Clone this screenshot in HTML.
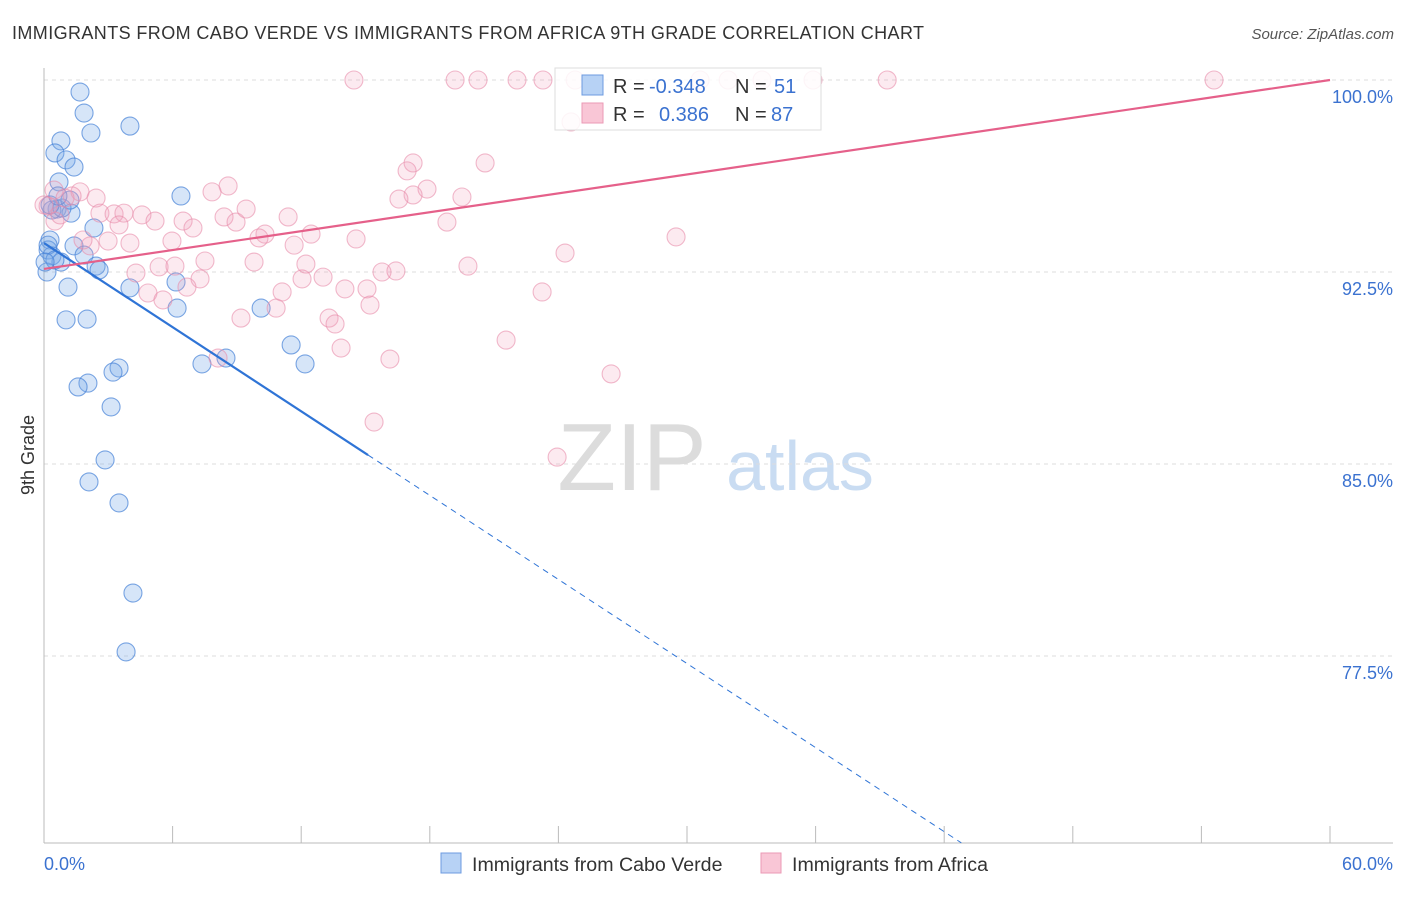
<!DOCTYPE html>
<html><head><meta charset="utf-8"><style>
body{margin:0;background:#fff;font-family:"Liberation Sans",sans-serif;}
svg text{font-family:"Liberation Sans",sans-serif;}
</style></head><body>
<svg id="chart" width="1406" height="892" viewBox="0 0 1406 892">
<text x="12" y="39" font-size="18" fill="#333" letter-spacing="0.4">IMMIGRANTS FROM CABO VERDE VS IMMIGRANTS FROM AFRICA 9TH GRADE CORRELATION CHART</text>
<text x="1394" y="39" font-size="15" fill="#555" font-style="italic" text-anchor="end">Source: ZipAtlas.com</text>
<g>
<text x="632" y="490" font-size="96" fill="#dcdcdc" font-family="Liberation Serif" text-anchor="middle">ZIP</text>
<text x="800" y="490" font-size="70" fill="#c9dcf2" text-anchor="middle">atlas</text>
</g>
<g id="grid"></g>
<g id="axes"></g>
<g id="pts"></g>
<g id="trends"></g>
<text transform="translate(34,455) rotate(-90)" font-size="18" fill="#333" text-anchor="middle">9th Grade</text>
<text x="44" y="870" font-size="18" fill="#3b72d0">0.0%</text>
<text x="1393" y="870" font-size="18" fill="#3b72d0" text-anchor="end">60.0%</text>
<g>
<rect x="555" y="68" width="266" height="62" fill="#fff" fill-opacity="0.85" stroke="#ddd"/>
<rect x="582" y="75" width="21" height="20" fill="#b7d2f5" stroke="#6c9be0"/>
<rect x="582" y="103" width="21" height="20" fill="#f9c6d6" stroke="#eb9ab5"/>
<text x="613" y="93" font-size="20" fill="#333">R =</text><text x="649" y="93" font-size="20" fill="#3b72d0">-0.348</text>
<text x="735" y="93" font-size="20" fill="#333">N =</text><text x="774" y="93" font-size="20" fill="#3b72d0">51</text>
<text x="613" y="121" font-size="20" fill="#333">R =</text><text x="659" y="121" font-size="20" fill="#3b72d0">0.386</text>
<text x="735" y="121" font-size="20" fill="#333">N =</text><text x="771" y="121" font-size="20" fill="#3b72d0">87</text>
</g>
<g>
<rect x="441" y="853" width="20" height="20" fill="#b7d2f5" stroke="#6c9be0"/>
<text x="472" y="871" font-size="19.6" fill="#333">Immigrants from Cabo Verde</text></g>
<g>
<rect x="761" y="853" width="20" height="20" fill="#f9c6d6" stroke="#eb9ab5"/>
<text x="792" y="871" font-size="19.6" fill="#333">Immigrants from Africa</text></g>
</svg>
<script>
const yTicks=[100,92.5,85,77.5];
const yTickLabels=["100.0%","92.5%","85.0%","77.5%"];
const xTicks=[0,6,12,18,24,30,36,42,48,54,60];
const blueX=[1.68,1.87,2.19,4.01,0.79,0.51,1.03,1.40,0.70,6.39,0.61,1.26,2.33,0.28,0.19,1.40,0.37,0.79,1.87,2.43,2.57,0.14,1.12,4.01,6.16,6.21,10.13,1.03,2.01,11.53,12.18,7.37,8.49,3.50,3.22,2.05,1.59,3.13,2.85,2.10,3.50,4.15,3.83,0.37,0.84,0.19,0.51,1.21,0.05,0.28,0.65];
const blueY=[99.53,98.71,97.93,98.20,97.62,97.15,96.88,96.60,96.02,95.47,94.96,94.80,94.22,93.75,93.36,93.52,93.13,92.89,93.16,92.73,92.58,92.50,91.91,91.88,92.11,91.09,91.09,90.63,90.66,89.65,88.91,88.91,89.14,88.75,88.59,88.16,88.01,87.23,85.16,84.30,83.48,79.96,77.66,94.92,95.00,93.55,92.97,95.31,92.89,95.12,95.47];
const pinkX=[14.46,19.18,20.25,22.07,23.28,24.78,30.61,31.92,33.50,35.88,39.34,54.59,24.59,17.22,20.58,16.94,8.59,7.84,17.87,17.22,16.56,19.50,1.68,2.43,0.47,0.98,1.31,0.19,2.61,3.27,3.73,4.57,5.18,6.49,8.40,8.96,9.43,11.39,6.95,3.50,10.31,12.46,10.03,11.67,14.56,18.80,29.49,5.97,4.01,2.99,2.15,1.82,0.51,7.51,9.80,12.22,5.37,4.29,6.11,7.28,6.67,4.85,5.55,11.11,12.04,13.02,15.07,14.04,15.77,16.42,19.78,24.31,23.24,15.21,10.83,9.19,13.30,13.58,13.86,8.12,16.14,21.56,26.46,15.40,23.94,0,0.75];
const pinkY=[100,100,100,100,100,100,100,100,100,100,100,100,98.36,96.76,96.76,96.45,95.86,95.63,95.74,95.51,95.35,95.43,95.63,95.39,95.70,95.39,95.47,95.08,94.80,94.77,94.80,94.73,94.49,94.49,94.65,94.45,94.96,94.65,94.22,94.34,93.98,93.98,93.83,93.55,93.79,94.45,93.87,93.71,93.63,93.71,93.52,93.75,94.49,92.93,92.89,92.81,92.70,92.46,92.73,92.23,91.91,91.68,91.41,91.72,92.23,92.30,91.84,91.84,92.50,92.54,92.73,93.24,91.72,91.21,91.09,90.70,90.70,90.47,89.53,89.14,89.10,89.84,88.52,86.64,85.27,95.12,94.73];
const blueTrend=[[0,93.63],[15.12,85.35],[42.8,70.2]];
const pinkTrend=[[0,92.62],[60,100]];
const X=v=>44+v/60*1286, Y=v=>80+(100-v)/7.5*192;
const NS="http://www.w3.org/2000/svg";
function mk(tag,attrs,parent){const e=document.createElementNS(NS,tag);for(const k in attrs)e.setAttribute(k,attrs[k]);document.getElementById(parent).appendChild(e);return e;}
yTicks.forEach((t,i)=>{
 const l=mk('line',{x1:44,x2:1393,y1:Y(t),y2:Y(t),stroke:'#ddd','stroke-dasharray':'4,4'},'grid');
 
 
 const tx=mk('text',{x:1393,y:Y(t)+23,'font-size':18,fill:'#3b72d0','text-anchor':'end'},'grid');
 tx.textContent=yTickLabels[i];
 
 
});
const ya=mk('line',{x1:44,x2:44,y1:68,y2:843,stroke:'#bbb'},'axes');


const xa=mk('line',{x1:44,x2:1393,y1:843,y2:843,stroke:'#bbb'},'axes');


xTicks.forEach(t=>{
 const l=mk('line',{x1:X(t),x2:X(t),y1:826,y2:843,stroke:'#bbb'},'axes');
 
 
});
blueX.forEach((v,i)=>{
 const c=mk('circle',{cx:X(v),cy:Y(blueY[i]),r:9,fill:'rgba(120,168,232,0.3)',stroke:'rgba(70,130,215,0.7)','stroke-width':1.1},'pts');
 
 
});
pinkX.forEach((v,i)=>{
 const c=mk('circle',{cx:X(v),cy:Y(pinkY[i]),r:9,fill:'rgba(242,160,186,0.22)',stroke:'rgba(232,140,170,0.6)','stroke-width':1.1},'pts');
 
 
});
const b1=mk('line',{x1:X(blueTrend[0][0]),y1:Y(blueTrend[0][1]),x2:X(blueTrend[1][0]),y2:Y(blueTrend[1][1]),stroke:'#2f74d6','stroke-width':2.2},'trends');


const b2=mk('line',{x1:X(blueTrend[1][0]),y1:Y(blueTrend[1][1]),x2:X(blueTrend[2][0]),y2:Y(blueTrend[2][1]),stroke:'#2f74d6','stroke-width':1,'stroke-dasharray':'6,5'},'trends');


const p1=mk('line',{x1:X(pinkTrend[0][0]),y1:Y(pinkTrend[0][1]),x2:X(pinkTrend[1][0]),y2:Y(pinkTrend[1][1]),stroke:'#e5608a','stroke-width':2.2},'trends');


</script>
</body></html>
